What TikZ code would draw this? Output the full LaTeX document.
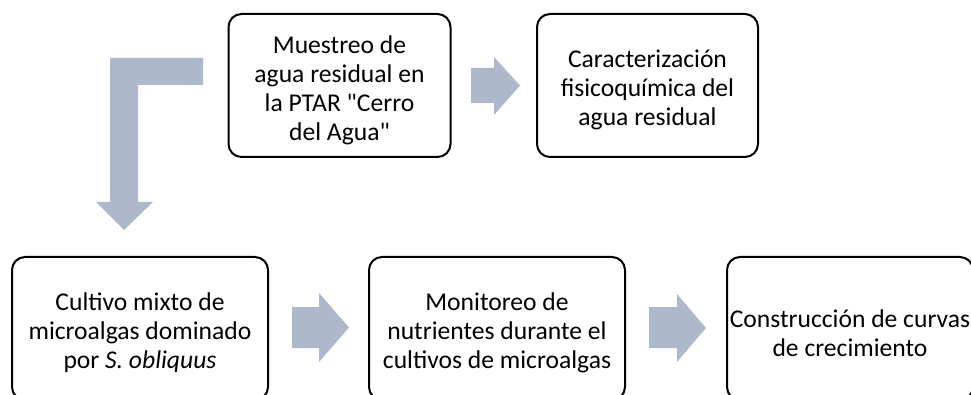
\documentclass[tikz,border=0pt]{standalone}
\usepackage{fontspec}
\setmainfont{Carlito}[Ligatures=TeXOff]
\newcommand{\tstrut}{\rule{0pt}{27pt}}
\begin{document}
\begin{tikzpicture}[x=1pt,y=-1pt,
  box/.style={draw=black,line width=2pt,rounded corners=13pt,minimum height=143pt,align=center,inner sep=0pt,font=\fontsize{25.6}{29}\selectfont},
  blockarrow/.style={fill=arrowfill,draw=none}]
\definecolor{arrowfill}{RGB}{173,185,202}
\useasboundingbox (0,0) rectangle (971,395);
\clip (0,0) rectangle (971,395);
\node[box,minimum width=222pt] (m) at (339.5,85.5) {\tstrut Muestreo de\\agua residual en\\la PTAR "Cerro\\del Agua"};
\node[box,minimum width=221pt] (c) at (647.5,85.5) {\tstrut Caracterización\\fisicoquímica del\\agua residual};
\node[box,minimum width=256pt] (cu) at (140,328.5) {\tstrut Cultivo mixto de\\microalgas dominado\\por \textit{S. obliquus}};
\node[box,minimum width=256pt] (mo) at (497,328.5) {\tstrut Monitoreo de\\nutrientes durante el\\cultivos de microalgas};
\node[box,minimum width=246pt] (co) at (850,328.5) {\tstrut Construcción de curvas\\de crecimiento};
% straight block arrows
\fill[blockarrow] (471,68) -- (494,68) -- (494,57) -- (520,85.5) -- (494,115) -- (494,103) -- (471,103) -- cycle;
\fill[blockarrow] (292,307) -- (319,307) -- (319,293) -- (349,327.5) -- (319,362) -- (319,348) -- (292,348) -- cycle;
\fill[blockarrow] (649,307) -- (677,307) -- (677,294) -- (706,328) -- (677,362) -- (677,348) -- (649,348) -- cycle;
% bent arrow
\fill[blockarrow] (110,58) -- (203,58) -- (203,85) -- (138,85) -- (138,202) -- (153,202) -- (124,230) -- (96,202) -- (110,202) -- cycle;
\end{tikzpicture}
\end{document}
